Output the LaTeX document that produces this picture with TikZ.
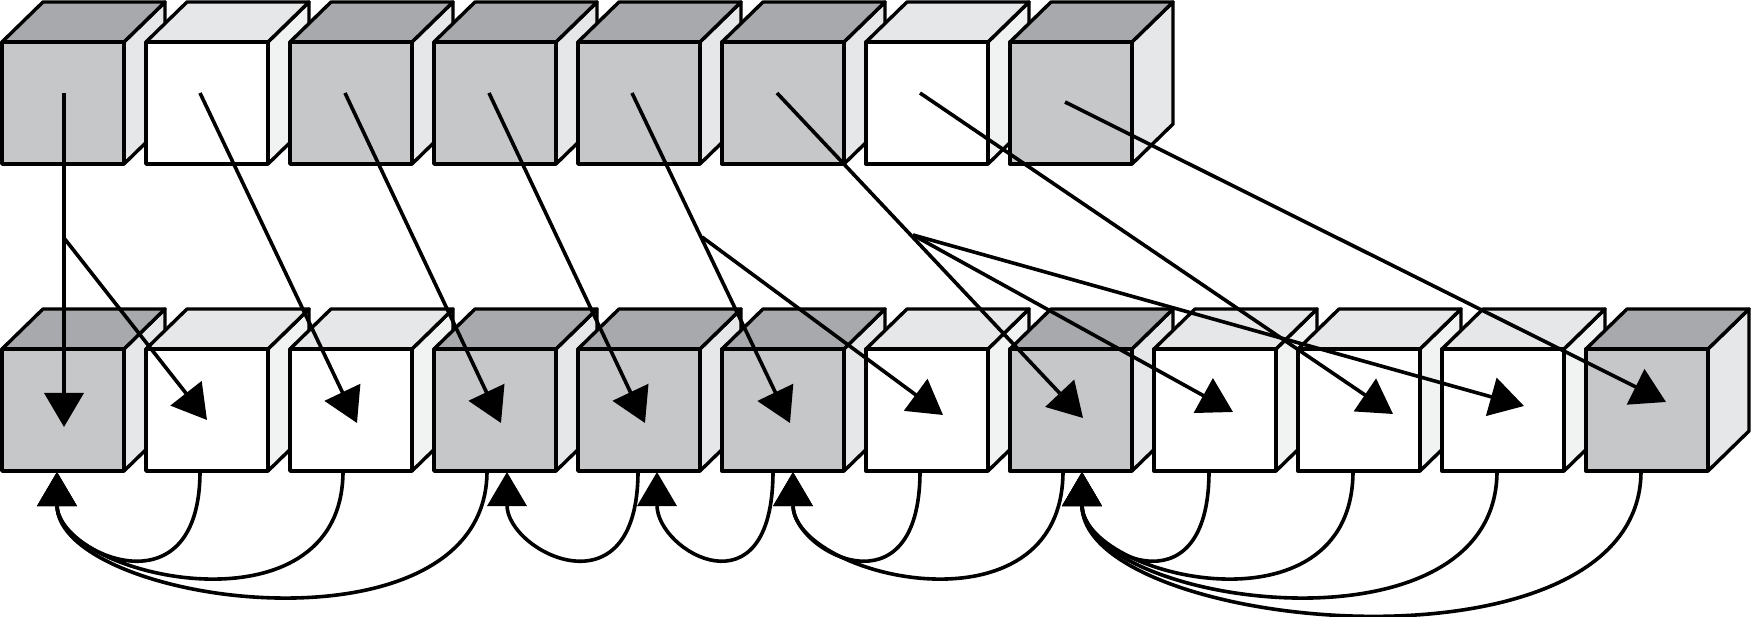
\documentclass[tikz,border=0pt]{standalone}
\usetikzlibrary{arrows.meta,calc}
\definecolor{Gfront}{HTML}{C6C7C9}
\definecolor{Gtop}{HTML}{A7A9AC}
\definecolor{Gside}{HTML}{E6E7E8}
\definecolor{Wfront}{HTML}{FFFFFF}
\definecolor{Wtop}{HTML}{E6E7E8}
\definecolor{Wside}{HTML}{F1F2F2}
\newcommand\mycube[3]{%
  \filldraw[cubeline,fill=#3side] (#1+122,#2) -- (#1+163,#2-40) -- (#1+163,#2+82) -- (#1+122,#2+122) -- cycle;
  \filldraw[cubeline,fill=#3top] (#1,#2) -- (#1+41,#2-40) -- (#1+163,#2-40) -- (#1+122,#2) -- cycle;
  \filldraw[cubeline,fill=#3front] (#1,#2) rectangle (#1+122,#2+122);
}
\begin{document}
\begin{tikzpicture}[x=1pt,y=-1pt,
  cubeline/.style={line width=3.4pt,line join=round,draw=black},
  conn/.style={line width=3.6pt,-{Triangle[length=34pt,width=39pt]}}]
\useasboundingbox (0,0) rectangle (1751,617);
% top row
\foreach \i/\t in {0/G,1/W,2/G,3/G,4/G,5/G,6/W,7/G}{
  \pgfmathsetmacro\xx{2+144*\i}
  \mycube{\xx}{42}{\t}
}
% bottom row
\foreach \i/\t in {0/G,1/W,2/W,3/G,4/G,5/G,6/W,7/G,8/W,9/W,10/W,11/G}{
  \pgfmathsetmacro\xx{2+144*\i}
  \mycube{\xx}{349}{\t}
}
% start points in the top row
\coordinate (T1) at (64,93);
\coordinate (T2) at (200,93);
\coordinate (T3) at (345,93);
\coordinate (T4) at (489,93);
\coordinate (T5) at (632,93);
\coordinate (T6) at (777,93);
\coordinate (T7) at (920,93);
\coordinate (T8) at (1065,102);
% arrow tips in the bottom row
\coordinate (B1) at (64,427);
\coordinate (B2) at (207,420);
\coordinate (B3) at (357,423);
\coordinate (B4) at (501,423);
\coordinate (B5) at (645,423);
\coordinate (B6) at (790,423);
\coordinate (B7) at (943,415);
\coordinate (B8) at (1083,418);
\coordinate (B9) at (1233,412);
\coordinate (B10) at (1393,414);
\coordinate (B11) at (1524,406);
\coordinate (B12) at (1666,402);
% branch points
\coordinate (J1) at (64,238);
\coordinate (J5) at (702,237);
\coordinate (J6) at (913,235);
% straight connectors
\draw[conn] (T1) -- (B1);
\draw[conn] (T2) -- (B3);
\draw[conn] (T3) -- (B4);
\draw[conn] (T4) -- (B5);
\draw[conn] (T5) -- (B6);
\draw[conn] (T6) -- (B8);
\draw[conn] (T7) -- (B10);
\draw[conn] (T8) -- (B12);
\draw[conn] (J1) -- (B2);
\draw[conn] (J5) -- (B7);
\draw[conn] (J6) -- (B9);
\draw[conn] (J6) -- (B11);
% curve starts (bottom edges)
\foreach \n/\x in {2/200,3/343,4/487,5/638,6/773,7/920,8/1063,9/1209,10/1353,11/1497,12/1641}{
  \coordinate (S\n) at (\x,471);
}
% curve targets
\coordinate (U1) at (57,472);
\coordinate (U4) at (507,472);
\coordinate (U5) at (657,472);
\coordinate (U6) at (793,472);
\coordinate (U8) at (1082,472);
% curved connectors: control lengths per span
\foreach \s/\u/\a/\b in {2/1/147/80,3/1/170/105,4/1/193/133,5/4/147/80,6/5/147/80,7/6/147/80,8/6/170/105,9/8/147/80,10/8/170/105,11/8/193/133,12/8/215/160}{
  \draw[conn] (S\s) .. controls ($(S\s)+(0,\a)$) and ($(U\u)+(0,\b)$) .. (U\u);
}
\end{tikzpicture}
\end{document}
